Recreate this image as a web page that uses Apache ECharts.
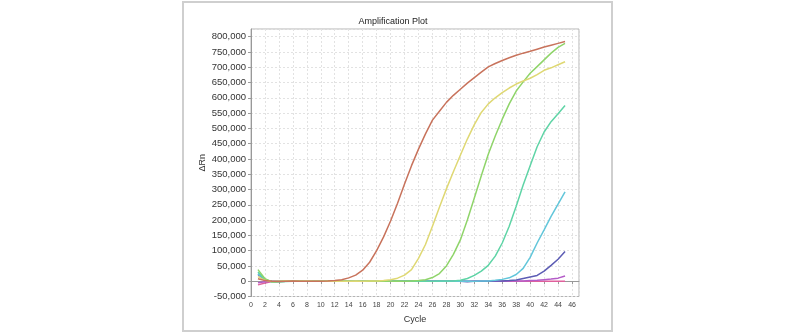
<!DOCTYPE html>
<html>
<head>
<meta charset="utf-8">
<script src="https://cdn.jsdelivr.net/npm/echarts@6/dist/echarts.min.js"></script>
<style>
html,body{margin:0;padding:0;background:#fff;}
#chart{width:800px;height:335px;}
</style>
</head>
<body>
<div id="chart"></div>
<script>
const cycles = [1,2,3,4,5,6,7,8,9,10,11,12,13,14,15,16,17,18,19,20,21,22,23,24,25,26,27,28,29,30,31,32,33,34,35,36,37,38,39,40,41,42,43,44,45];

const sRed = [8000,2000,0,-1000,0,1000,0,0,-500,0,500,2000,5000,11000,20000,36000,62000,100000,145000,197000,255000,318000,378000,432000,482000,527000,556000,585000,608000,628000,648000,666000,684000,701000,712000,722000,731000,739000,746000,752000,759000,766000,772000,778000,784000];
const sYellow = [15000,3000,-1000,0,500,0,0,500,0,0,0,500,0,0,500,0,500,1000,2000,5000,10000,20000,38000,75000,120000,180000,242000,302000,358000,412000,465000,512000,552000,580000,600000,617000,632000,645000,655000,664000,676000,690000,698000,708000,718000];
const sGreen = [38000,8000,-2000,-1000,0,0,500,0,0,0,0,0,500,0,0,0,500,0,0,0,500,0,1000,2000,5000,12000,25000,50000,88000,135000,200000,272000,345000,415000,475000,530000,580000,622000,652000,680000,702000,724000,746000,765000,778000];
const sTeal = [30000,6000,-3000,-2000,-1000,0,0,0,0,0,0,0,0,0,0,0,0,0,0,0,0,0,0,0,0,0,500,500,1000,3000,9000,19000,33000,52000,82000,125000,180000,245000,315000,378000,440000,488000,522000,548000,575000];
const sCyan = [25000,5000,-2000,-1000,0,0,0,0,0,0,0,0,0,0,0,0,0,0,0,0,0,0,0,0,0,0,0,0,0,0,500,0,500,1000,3000,6000,11000,22000,42000,78000,125000,168000,212000,252000,292000];
const sBlue = [22000,4000,0,-1000,0,0,0,0,0,0,0,0,0,0,0,0,0,0,0,0,0,0,0,0,0,0,0,0,0,0,-2000,0,0,0,500,1000,2000,4000,9000,14000,19000,33000,52000,72000,97000];
const sMagenta = [-5000,-2000,0,0,0,0,0,0,0,0,0,1000,0,0,0,0,0,0,0,0,0,0,0,0,0,0,0,0,0,0,0,0,0,0,0,0,500,1000,1000,2000,3000,5000,7000,10000,17000];
const sPink = [-12000,-6000,-1000,0,0,0,0,0,0,0,-500,0,0,0,0,0,0,0,0,0,0,0,0,0,0,0,0,0,0,0,0,0,0,0,0,0,0,0,0,0,0,0,0,0,0];

const seriesNames = ['S1','S2','S3','S4','S5','S6','S7','S8'];
const seriesValues = [sPink, sMagenta, sBlue, sCyan, sTeal, sGreen, sYellow, sRed];
const seriesColors = ['#e0609c','#b45cc8','#5c5cb4','#62c6da','#5fd4a6','#8fd46a','#dfd873','#c8735c'];

const chart = echarts.init(document.getElementById('chart'));
const font = 'Liberation Sans, Arial, sans-serif';
chart.setOption({
  animation: false,
  backgroundColor: '#fff',
  title: {
    text: 'Amplification Plot',
    left: 388, top: 12, textAlign: 'center',
    textStyle: {fontSize: 9, fontWeight: 'normal', color: '#222', fontFamily: font}
  },
  graphic: [{
    type: 'rect', silent: true, z: -1,
    shape: {x: 183, y: 2, width: 429, height: 329},
    style: {fill: 'none', stroke: '#cfcfcf', lineWidth: 2}
  }],
  grid: {left: 251, right: 221, top: 29, bottom: 38.5, show: true, borderColor: '#b4b4b4', borderWidth: 1, backgroundColor: '#fff'},
  xAxis: {
    type: 'value', min: 0, max: 47, interval: 2,
    name: 'Cycle', nameLocation: 'middle', nameGap: 19,
    nameTextStyle: {fontSize: 9, color: '#333', fontFamily: font},
    axisLine: {show: true, lineStyle: {color: '#999'}},
    axisTick: {show: true, length: 3, lineStyle: {color: '#999'}},
    axisLabel: {fontSize: 7, color: '#444', fontFamily: font, margin: 5, showMaxLabel: false},
    splitLine: {show: true, lineStyle: {color: '#e2e2e2', type: [2, 2]}}
  },
  yAxis: {
    type: 'value', min: -50000, max: 825000, interval: 50000,
    name: 'ΔRn', nameLocation: 'middle', nameGap: 44,
    nameTextStyle: {fontSize: 9, color: '#333', fontFamily: font},
    axisLine: {show: true, lineStyle: {color: '#999'}},
    axisTick: {show: true, length: 3, lineStyle: {color: '#999'}},
    axisLabel: {fontSize: 9.5, color: '#333', fontFamily: font, margin: 5, showMaxLabel: false,
      formatter: v => v.toLocaleString('en-US')},
    splitLine: {show: true, lineStyle: {color: '#e2e2e2', type: [2, 2]}}
  },
  series: seriesValues.map((vals, i) => ({
    name: seriesNames[i], type: 'line', showSymbol: false, smooth: false,
    data: cycles.map((c, j) => [c, vals[j]]),
    lineStyle: {width: 1.5, color: seriesColors[i]},
    itemStyle: {color: seriesColors[i]}
  }))
});
</script>
</body>
</html>
